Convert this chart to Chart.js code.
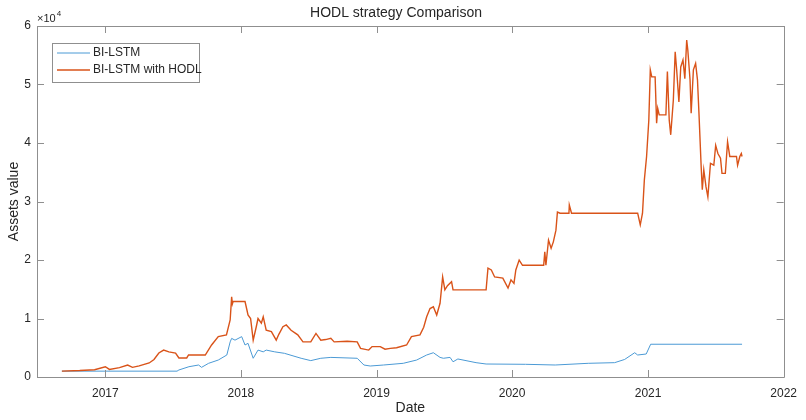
<!DOCTYPE html>
<html>
<head>
<meta charset="utf-8">
<title>HODL strategy Comparison</title>
<script src="https://cdn.jsdelivr.net/npm/chart.js@4/dist/chart.umd.min.js"></script>
<style>
  html, body { margin: 0; padding: 0; background: #ffffff; }
  #wrap { width: 806px; height: 420px; position: relative; }
</style>
</head>
<body>
<div id="wrap"><canvas id="chart" width="806" height="420"></canvas></div>
<script>
// ---- series data ----
const lstmDates = [
  '2016-09-06','2017-07-13','2017-07-18','2017-08-14','2017-09-09','2017-09-17','2017-10-06',
  '2017-11-01','2017-11-24','2017-12-03','2017-12-07','2017-12-16','2018-01-03','2018-01-12',
  '2018-01-20','2018-02-03','2018-02-16','2018-03-02','2018-03-10','2018-04-02','2018-04-28',
  '2018-06-12','2018-07-08','2018-08-04','2018-08-31','2018-11-10','2018-11-28','2018-12-15',
  '2019-01-20','2019-03-14','2019-04-19','2019-05-16','2019-06-03','2019-06-21','2019-06-30',
  '2019-07-18','2019-07-26','2019-08-08','2019-09-26','2019-10-23','2020-02-06','2020-04-26',
  '2020-07-24','2020-10-03','2020-10-30','2020-11-26','2020-12-04','2020-12-27','2021-01-08',
  '2021-09-11'
];
const lstmValues = [
  1000, 1000, 1200, 1760, 2050, 1650, 2340,
  2900, 3760, 6000, 6600, 6300, 6900, 5470,
  5760, 3200, 4600, 4300, 4600, 4300, 4050,
  3200, 2800, 3200, 3350, 3200, 2050, 1880,
  2050, 2340, 2900, 3760, 4150, 3350, 3200,
  3350, 2600, 3080, 2450, 2220, 2170, 2050,
  2340, 2450, 3000, 4150, 3760, 3930, 5600,
  5600
];

const hodlDates = [
  '2016-09-06','2016-10-24','2016-12-03','2017-01-01','2017-01-12','2017-02-08','2017-03-02',
  '2017-03-15','2017-04-02','2017-04-29','2017-05-12','2017-05-25','2017-06-07','2017-06-21',
  '2017-07-09','2017-07-18','2017-08-08','2017-08-13','2017-09-27','2017-10-14','2017-11-01',
  '2017-11-23','2017-12-03','2017-12-07','2017-12-09','2017-12-11','2018-01-12','2018-01-17',
  '2018-01-20','2018-01-27','2018-02-03','2018-02-11','2018-02-16','2018-02-25','2018-03-02',
  '2018-03-10','2018-03-24','2018-04-06','2018-04-13','2018-04-24','2018-05-03','2018-05-16',
  '2018-06-03','2018-06-17','2018-07-08','2018-07-22','2018-08-04','2018-08-17','2018-08-31',
  '2018-09-09','2018-10-14','2018-11-10','2018-11-19','2018-12-11','2018-12-20','2019-01-11',
  '2019-01-24','2019-02-07','2019-02-24','2019-03-23','2019-04-05','2019-04-28','2019-05-08',
  '2019-05-16','2019-05-25','2019-06-03','2019-06-12','2019-06-21','2019-06-28','2019-07-04',
  '2019-07-11','2019-07-22','2019-07-26','2019-10-23','2019-10-28','2019-11-06','2019-11-15',
  '2019-12-07','2019-12-21','2019-12-29','2020-01-06','2020-01-11','2020-01-20','2020-01-29',
  '2020-03-26','2020-03-29','2020-04-01','2020-04-08','2020-04-15','2020-04-21','2020-04-28',
  '2020-05-02','2020-05-09','2020-06-02','2020-06-03','2020-06-09','2020-12-04','2020-12-11',
  '2020-12-17','2020-12-22','2020-12-28','2021-01-03','2021-01-07','2021-01-11','2021-01-20',
  '2021-01-24','2021-01-27','2021-01-31','2021-02-18','2021-02-22','2021-02-27','2021-03-03',
  '2021-03-10','2021-03-15','2021-03-19','2021-03-25','2021-03-30','2021-04-05','2021-04-10',
  '2021-04-15','2021-04-18','2021-04-24','2021-04-27','2021-05-03','2021-05-09','2021-05-14',
  '2021-05-18','2021-05-24','2021-05-27','2021-05-31','2021-06-06','2021-06-11','2021-06-18',
  '2021-06-27','2021-07-02','2021-07-08','2021-07-15','2021-07-19','2021-07-28','2021-08-03',
  '2021-08-09','2021-08-27','2021-08-30','2021-09-05','2021-09-09','2021-09-11'
];
const hodlValues = [
  1000, 1100, 1250, 1750, 1300, 1600, 2050,
  1650, 1900, 2400, 3000, 4100, 4600, 4300,
  4100, 3250, 3250, 3760, 3760, 5470, 6900,
  7200, 9750, 13700, 12500, 12900, 12900, 11500,
  10600, 10000, 6300, 8500, 10000, 9200, 10300,
  8000, 7750, 6300, 7300, 8600, 8900, 8000,
  7200, 6000, 6000, 7450, 6300, 6400, 6600,
  6000, 6100, 6000, 4900, 4600, 5200, 5200,
  4750, 4900, 5000, 5470, 6900, 7200, 8500,
  10300, 11700, 12000, 10600, 12600, 17100, 14900,
  15600, 16300, 14900, 14900, 18600, 18300, 17100,
  16900, 15200, 16600, 16000, 18300, 20000, 19100,
  19100, 21400, 19100, 23400, 22000, 23100, 25100,
  28200, 28000, 28000, 29400, 28000, 28000, 26000,
  28000, 33700, 37700, 43900, 52500, 51300, 51300,
  43400, 45900, 44800, 44800, 52200, 43900, 41400,
  47300, 55600, 52500, 47000, 53000, 54200, 51000,
  57600, 55900, 50800, 45100, 52500, 53600, 50800,
  45100, 35900, 32000, 35400, 32500, 30800, 36500,
  36200, 39600, 38200, 37400, 34800, 34800, 40200,
  37700, 37700, 36200, 37700, 38200, 37700
];

const yearTicks = [2017, 2018, 2019, 2020, 2021, 2022];
const valueTicks = [0, 10000, 20000, 30000, 40000, 50000, 60000];
const seriesNames = ['BI-LSTM', 'BI-LSTM with HODL'];

// ---- helpers ----
const toTime = s => { const [y, m, d] = s.split('-').map(Number); return Date.UTC(y, m - 1, d); };
const toPoints = (dates, vals) => dates.map((d, i) => ({ x: toTime(d), y: vals[i] }));

const FONT = '"Liberation Sans", Arial, Helvetica, sans-serif';
const TEXT = '#262626';
const AXIS = '#8f8f8f';
const BLUE = '#4b9ad5';
const ORANGE = '#d95319';

// box around the axes with MATLAB-style inward ticks, plus exponent label
const axesBox = {
  id: 'axesBox',
  afterDatasetsDraw(chart) {
    const { ctx, chartArea: a, scales } = chart;
    const len = 7;
    ctx.save();
    ctx.strokeStyle = AXIS;
    ctx.lineWidth = 1;
    ctx.beginPath();
    ctx.rect(Math.round(a.left) + 0.5, Math.round(a.top) + 0.5,
             Math.round(a.right - a.left), Math.round(a.bottom - a.top));
    scales.x.ticks.forEach(t => {
      const px = Math.round(scales.x.getPixelForValue(t.value)) + 0.5;
      ctx.moveTo(px, a.bottom); ctx.lineTo(px, a.bottom - len);
      ctx.moveTo(px, a.top); ctx.lineTo(px, a.top + len);
    });
    scales.y.ticks.forEach(t => {
      const py = Math.round(scales.y.getPixelForValue(t.value)) + 0.5;
      ctx.moveTo(a.left, py); ctx.lineTo(a.left + len, py);
      ctx.moveTo(a.right, py); ctx.lineTo(a.right - len, py);
    });
    ctx.stroke();

    // ×10^4 multiplier above the value axis
    ctx.fillStyle = TEXT;
    ctx.textBaseline = 'alphabetic';
    ctx.textAlign = 'left';
    ctx.font = '11px ' + FONT;
    ctx.fillText('\u00d710', a.left, a.top - 4);
    const w = ctx.measureText('\u00d710').width;
    ctx.font = '8px ' + FONT;
    ctx.fillText('4', a.left + w + 1, a.top - 10);
    ctx.restore();
  }
};

// boxed legend in the upper-left corner of the plot
const boxedLegend = {
  id: 'boxedLegend',
  afterDraw(chart) {
    const { ctx, chartArea: a } = chart;
    const x0 = a.left + 15, y0 = a.top + 17, w = 147, h = 39;
    ctx.save();
    ctx.fillStyle = '#ffffff';
    ctx.fillRect(x0, y0, w, h);
    ctx.strokeStyle = AXIS;
    ctx.lineWidth = 1;
    ctx.strokeRect(Math.round(x0) + 0.5, Math.round(y0) + 0.5, w, h);
    const colors = [BLUE, ORANGE];
    const widths = [1, 1.4];
    ctx.font = '12px ' + FONT;
    ctx.textBaseline = 'middle';
    ctx.textAlign = 'left';
    seriesNames.forEach((name, i) => {
      const cy = y0 + 10 + i * 17;
      ctx.strokeStyle = colors[i];
      ctx.lineWidth = widths[i];
      ctx.beginPath();
      ctx.moveTo(x0 + 5, cy); ctx.lineTo(x0 + 38, cy);
      ctx.stroke();
      ctx.fillStyle = TEXT;
      ctx.fillText(name, x0 + 41, cy);
    });
    ctx.restore();
  }
};

new Chart(document.getElementById('chart'), {
  type: 'line',
  data: {
    datasets: [
      {
        label: seriesNames[0],
        data: toPoints(lstmDates, lstmValues),
        borderColor: BLUE,
        borderWidth: 1,
        pointRadius: 0,
        tension: 0,
        order: 1
      },
      {
        label: seriesNames[1],
        data: toPoints(hodlDates, hodlValues),
        borderColor: ORANGE,
        borderWidth: 1.4,
        pointRadius: 0,
        tension: 0,
        order: 0
      }
    ]
  },
  options: {
    responsive: false,
    animation: false,
    layout: { padding: { left: 0, right: 14, top: 0, bottom: 0 } },
    plugins: {
      legend: { display: false },
      tooltip: { enabled: false },
      title: {
        display: true,
        text: 'HODL strategy Comparison',
        color: TEXT,
        font: { family: FONT, size: 14, weight: 'normal' },
        padding: { top: 5, bottom: 4.2 }
      }
    },
    scales: {
      x: {
        type: 'linear',
        min: toTime('2016-07-01'),
        max: toTime('2022-01-01'),
        grid: { display: false, drawTicks: false },
        border: { display: false },
        afterBuildTicks(scale) {
          scale.ticks = yearTicks.map(y => ({ value: Date.UTC(y, 0, 1) }));
        },
        afterFit(scale) { scale.height = 43; },
        ticks: {
          autoSkip: false,
          maxRotation: 0,
          padding: 9,
          color: TEXT,
          font: { family: FONT, size: 12 },
          callback: v => String(new Date(v).getUTCFullYear())
        },
        title: {
          display: true,
          text: 'Date',
          color: TEXT,
          font: { family: FONT, size: 14 },
          padding: 3
        }
      },
      y: {
        min: 0,
        max: 60000,
        grid: { display: false, drawTicks: false },
        border: { display: false },
        afterBuildTicks(scale) {
          scale.ticks = valueTicks.map(v => ({ value: v }));
        },
        afterFit(scale) { scale.width = 37; },
        ticks: {
          padding: 6,
          color: TEXT,
          font: { family: FONT, size: 12 },
          callback: v => String(v / 10000)
        },
        title: {
          display: true,
          text: 'Assets value',
          color: TEXT,
          font: { family: FONT, size: 14 },
          padding: 6
        }
      }
    }
  },
  plugins: [axesBox, boxedLegend]
});
</script>
</body>
</html>
